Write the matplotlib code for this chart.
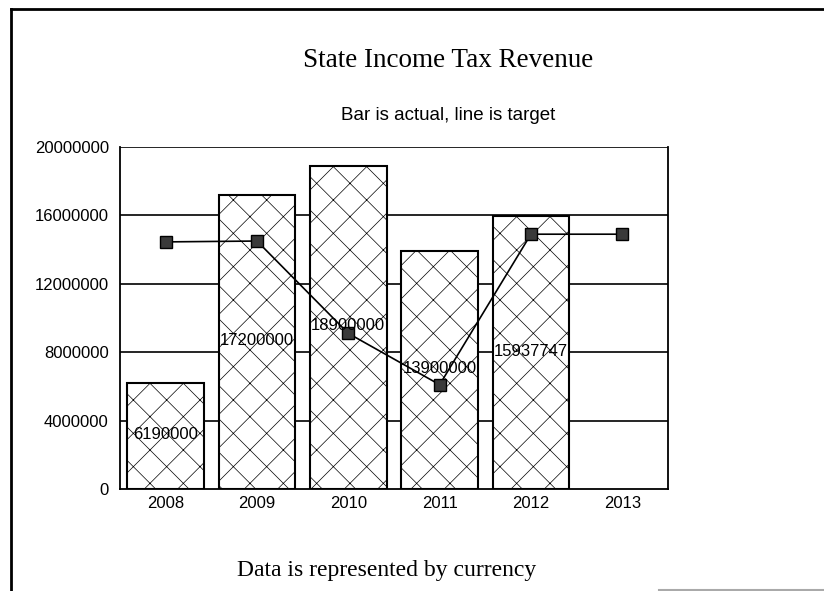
import matplotlib
matplotlib.use('Agg')
import matplotlib.pyplot as plt
from matplotlib.lines import Line2D

years = ['2008', '2009', '2010', '2011', '2012', '2013']
actual = [6190000, 17200000, 18900000, 13900000, 15937747]
target = [14450000, 14500000, 9100000, 6100000, 14900000, 14900000]
yticks = [0, 4000000, 8000000, 12000000, 16000000, 20000000]

plt.rcParams['hatch.color'] = '#8a8a8a'
plt.rcParams['hatch.linewidth'] = 0.5

fig = plt.figure(figsize=(8.24, 5.91), dpi=100)
ax = fig.add_axes([0.1456, 0.1726, 0.665, 0.5787])

xs = list(range(len(years)))
bars = ax.bar(xs[:len(actual)], actual, width=0.84, color='white',
              edgecolor='black', linewidth=1.5, hatch='x', zorder=2)
for x, v in zip(xs, actual):
    ax.text(x, v / 2 + 100000, str(v), ha='center', va='center', fontsize=12,
            family='Liberation Sans', zorder=5)

ax.plot(xs, target, color='black', lw=1.2, marker='s', markersize=9,
        markerfacecolor='#3a3a3a', markeredgecolor='black', zorder=4)

ax.set_xlim(-0.5, 5.5)
ax.set_ylim(0, 20000000)
ax.set_yticks(yticks)
ax.set_yticklabels([str(t) for t in yticks], family='Liberation Sans', fontsize=12)
ax.set_xticks(xs)
ax.set_xticklabels(years, family='Liberation Sans', fontsize=12)
ax.tick_params(axis='y', length=0, pad=8)
ax.tick_params(axis='x', length=0, pad=5)
for t in yticks[1:]:
    ax.axhline(t, color='black', lw=1.2, zorder=1)
for s in ax.spines.values():
    s.set_linewidth(1.3)
ax.spines['top'].set_visible(False)

fig.text(0.544, 0.898, 'State Income Tax Revenue', ha='center', va='center',
         family='Liberation Serif', fontsize=19.5)
fig.text(0.544, 0.805, 'Bar is actual, line is target', ha='center', va='center',
         family='Liberation Sans', fontsize=13.5)
fig.text(0.469, 0.035, 'Data is represented by currency', ha='center', va='center',
         family='Liberation Serif', fontsize=17)

# page border
fig.add_artist(Line2D([0.013, 0.013], [0.0, 0.985], color='black', lw=2, transform=fig.transFigure))
fig.add_artist(Line2D([0.013, 1.0], [0.985, 0.985], color='black', lw=2, transform=fig.transFigure))
fig.add_artist(Line2D([0.8, 1.0], [0.002, 0.002], color='#aaaaaa', lw=1.5, transform=fig.transFigure))

fig.savefig('out.png', dpi=100)
